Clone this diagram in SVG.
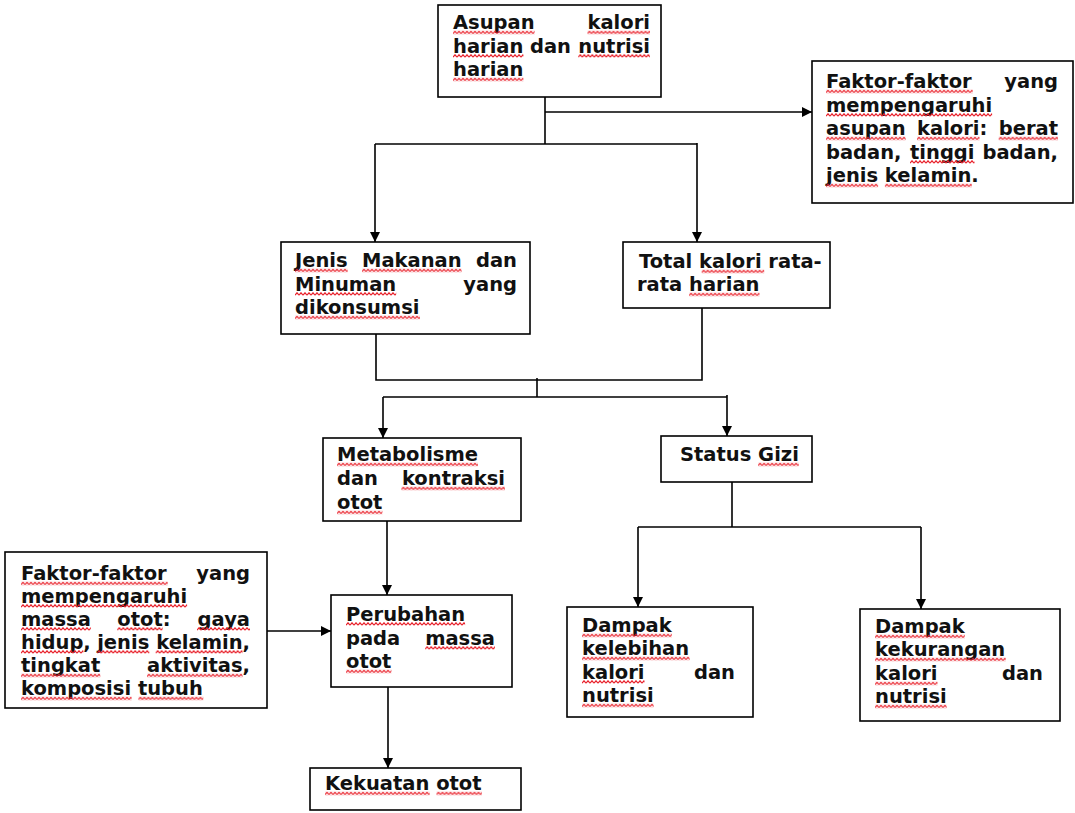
<svg xmlns="http://www.w3.org/2000/svg" width="1075" height="813" viewBox="0 0 1075 813">
<style>
.box{fill:#fff;stroke:#000;stroke-width:1.6}
.t{font-family:"DejaVu Sans",Verdana,sans-serif;font-weight:bold;font-size:19.5px;fill:#111}
.sq{fill:url(#wv)}
.ln{fill:none;stroke:#000;stroke-width:1.6}
.ar{marker-end:url(#ah)}
</style>
<defs>
<marker id="ah" markerUnits="userSpaceOnUse" markerWidth="10" markerHeight="10" refX="10" refY="5" orient="auto">
<path d="M0,0 L10,5 L0,10 z" fill="#000"/>
</marker>
<pattern id="wv" width="4" height="4" patternUnits="userSpaceOnUse">
<path d="M0,3.2 L2,0.8 L4,3.2" fill="none" stroke="#e8202a" stroke-width="1.2"/>
</pattern>
</defs>
<rect width="1075" height="813" fill="#fff"/>
<g id="connectors">
<path class="ln" d="M545,92 V144"/>
<path class="ln ar" d="M545,112 H812"/>
<path class="ln" d="M375,144 H697"/>
<path class="ln ar" d="M375,144 V242"/>
<path class="ln ar" d="M697,143 V242"/>
<path class="ln" d="M376,334 V380 H702 V308"/>
<path class="ln" d="M537,378 V397"/>
<path class="ln" d="M383,397 H727"/>
<path class="ln ar" d="M383,397 V438"/>
<path class="ln ar" d="M727,395 V436"/>
<path class="ln ar" d="M387,521 V595"/>
<path class="ln ar" d="M267,631 H331"/>
<path class="ln ar" d="M388,687 V768"/>
<path class="ln" d="M732,482 V527"/>
<path class="ln" d="M638,527 H921"/>
<path class="ln ar" d="M638,527 V607"/>
<path class="ln ar" d="M921,527 V609"/>
</g>
<g id="asupan">
<rect class="box" x="438" y="5" width="223" height="92"/>
<text class="t" x="453" y="29">Asupan</text>
<text class="t" x="650" y="29" text-anchor="end">kalori</text>
<text class="t" x="453" y="52.5">harian</text>
<text class="t" x="530" y="52.5">dan</text>
<text class="t" x="650" y="52.5" text-anchor="end">nutrisi</text>
<text class="t" x="453" y="76">harian</text>
<rect class="sq" transform="translate(453,30.5)" width="81.6" height="4"/>
<rect class="sq" transform="translate(587.5,30.5)" width="62.5" height="4"/>
<rect class="sq" transform="translate(453,54)" width="70.4" height="4"/>
<rect class="sq" transform="translate(578.3,54)" width="71.7" height="4"/>
<rect class="sq" transform="translate(453,77.5)" width="70.4" height="4"/>
</g>
<g id="faktor-kalori">
<rect class="box" x="812" y="61" width="261" height="142"/>
<text class="t" x="826" y="88">Faktor-faktor</text>
<text class="t" x="1058" y="88" text-anchor="end">yang</text>
<text class="t" x="826" y="111.5">mempengaruhi</text>
<text class="t" x="826" y="135">asupan</text>
<text class="t" x="917" y="135">kalori:</text>
<text class="t" x="1058" y="135" text-anchor="end">berat</text>
<text class="t" x="826" y="158.5">badan,</text>
<text class="t" x="910" y="158.5">tinggi</text>
<text class="t" x="1058" y="158.5" text-anchor="end">badan,</text>
<text class="t" x="826" y="182">jenis kelamin.</text>
<rect class="sq" transform="translate(826,89.5)" width="146.7" height="4"/>
<rect class="sq" transform="translate(826,113)" width="166.1" height="4"/>
<rect class="sq" transform="translate(826,136.5)" width="79.7" height="4"/>
<rect class="sq" transform="translate(917,136.5)" width="62.5" height="4"/>
<rect class="sq" transform="translate(998.7,136.5)" width="59.3" height="4"/>
<rect class="sq" transform="translate(910,160)" width="64.5" height="4"/>
<rect class="sq" transform="translate(826,183.5)" width="52.1" height="4"/>
<rect class="sq" transform="translate(884.9,183.5)" width="86.9" height="4"/>
</g>
<g id="jenis">
<rect class="box" x="281" y="242" width="249" height="92"/>
<text class="t" x="295" y="267">Jenis</text>
<text class="t" x="362" y="267">Makanan</text>
<text class="t" x="517" y="267" text-anchor="end">dan</text>
<text class="t" x="295" y="290.5">Minuman</text>
<text class="t" x="517" y="290.5" text-anchor="end">yang</text>
<text class="t" x="295" y="314">dikonsumsi</text>
<rect class="sq" transform="translate(295,268.5)" width="52.7" height="4"/>
<rect class="sq" transform="translate(362,268.5)" width="99.6" height="4"/>
<rect class="sq" transform="translate(295,292)" width="101.2" height="4"/>
<rect class="sq" transform="translate(295,315.5)" width="125" height="4"/>
</g>
<g id="total">
<rect class="box" x="623" y="242" width="207" height="66"/>
<text class="t" x="639" y="268">Total kalori rata-</text>
<text class="t" x="637" y="291">rata harian</text>
<rect class="sq" transform="translate(701.7,269.5)" width="62.5" height="4"/>
<rect class="sq" transform="translate(689.1,292.5)" width="70.4" height="4"/>
</g>
<g id="metabolisme">
<rect class="box" x="323" y="438" width="198" height="83"/>
<text class="t" x="337" y="461">Metabolisme</text>
<text class="t" x="337" y="485">dan</text>
<text class="t" x="505" y="485" text-anchor="end">kontraksi</text>
<text class="t" x="337" y="509">otot</text>
<rect class="sq" transform="translate(337,462.5)" width="141" height="4"/>
<rect class="sq" transform="translate(401.4,486.5)" width="103.6" height="4"/>
<rect class="sq" transform="translate(337,510.5)" width="45.4" height="4"/>
</g>
<g id="status-gizi">
<rect class="box" x="661" y="436" width="151" height="46"/>
<text class="t" x="680" y="461">Status Gizi</text>
<rect class="sq" transform="translate(758.1,462.5)" width="40.7" height="4"/>
</g>
<g id="perubahan">
<rect class="box" x="331" y="595" width="181" height="92"/>
<text class="t" x="346" y="620.5">Perubahan</text>
<text class="t" x="346" y="644.5">pada</text>
<text class="t" x="495" y="644.5" text-anchor="end">massa</text>
<text class="t" x="346" y="668">otot</text>
<rect class="sq" transform="translate(346,622)" width="119.1" height="4"/>
<rect class="sq" transform="translate(425.2,646)" width="69.8" height="4"/>
<rect class="sq" transform="translate(346,669.5)" width="45.4" height="4"/>
</g>
<g id="kekuatan">
<rect class="box" x="310" y="768" width="211" height="42"/>
<text class="t" x="325" y="790">Kekuatan otot</text>
<rect class="sq" transform="translate(325,791.5)" width="104.7" height="4"/>
<rect class="sq" transform="translate(436.5,791.5)" width="45.4" height="4"/>
</g>
<g id="faktor-massa">
<rect class="box" x="5" y="552" width="262" height="156"/>
<text class="t" x="21" y="580">Faktor-faktor</text>
<text class="t" x="250" y="580" text-anchor="end">yang</text>
<text class="t" x="21" y="602.5">mempengaruhi</text>
<text class="t" x="21" y="625.5">massa</text>
<text class="t" x="117.3" y="625.5">otot:</text>
<text class="t" x="250" y="625.5" text-anchor="end">gaya</text>
<text class="t" x="21" y="648.5">hidup,</text>
<text class="t" x="97.2" y="648.5">jenis</text>
<text class="t" x="250" y="648.5" text-anchor="end">kelamin,</text>
<text class="t" x="21" y="672">tingkat</text>
<text class="t" x="250" y="672" text-anchor="end">aktivitas,</text>
<text class="t" x="21" y="695">komposisi tubuh</text>
<rect class="sq" transform="translate(21,581.5)" width="146.7" height="4"/>
<rect class="sq" transform="translate(21,604)" width="166.1" height="4"/>
<rect class="sq" transform="translate(21,627)" width="69.8" height="4"/>
<rect class="sq" transform="translate(117.3,627)" width="45.4" height="4"/>
<rect class="sq" transform="translate(197,627)" width="53" height="4"/>
<rect class="sq" transform="translate(21,650)" width="62.4" height="4"/>
<rect class="sq" transform="translate(97.2,650)" width="52.1" height="4"/>
<rect class="sq" transform="translate(155.7,650)" width="86.9" height="4"/>
<rect class="sq" transform="translate(21,673.5)" width="79.3" height="4"/>
<rect class="sq" transform="translate(147,673.5)" width="95.6" height="4"/>
<rect class="sq" transform="translate(21,696.5)" width="110.6" height="4"/>
<rect class="sq" transform="translate(138.4,696.5)" width="64.9" height="4"/>
</g>
<g id="dampak-kelebihan">
<rect class="box" x="567" y="607" width="186" height="110"/>
<text class="t" x="582" y="632">Dampak</text>
<text class="t" x="582" y="655">kelebihan</text>
<text class="t" x="582" y="678.5">kalori</text>
<text class="t" x="735" y="678.5" text-anchor="end">dan</text>
<text class="t" x="582" y="702">nutrisi</text>
<rect class="sq" transform="translate(582,633.5)" width="89.8" height="4"/>
<rect class="sq" transform="translate(582,656.5)" width="107.7" height="4"/>
<rect class="sq" transform="translate(582,680)" width="62.5" height="4"/>
<rect class="sq" transform="translate(582,703.5)" width="71.7" height="4"/>
</g>
<g id="dampak-kekurangan">
<rect class="box" x="860" y="609" width="200" height="112"/>
<text class="t" x="875" y="633">Dampak</text>
<text class="t" x="875" y="656">kekurangan</text>
<text class="t" x="875" y="680">kalori</text>
<text class="t" x="1043" y="680" text-anchor="end">dan</text>
<text class="t" x="875" y="703">nutrisi</text>
<rect class="sq" transform="translate(875,634.5)" width="89.8" height="4"/>
<rect class="sq" transform="translate(875,657.5)" width="130.7" height="4"/>
<rect class="sq" transform="translate(875,681.5)" width="62.5" height="4"/>
<rect class="sq" transform="translate(875,704.5)" width="71.7" height="4"/>
</g>
</svg>
